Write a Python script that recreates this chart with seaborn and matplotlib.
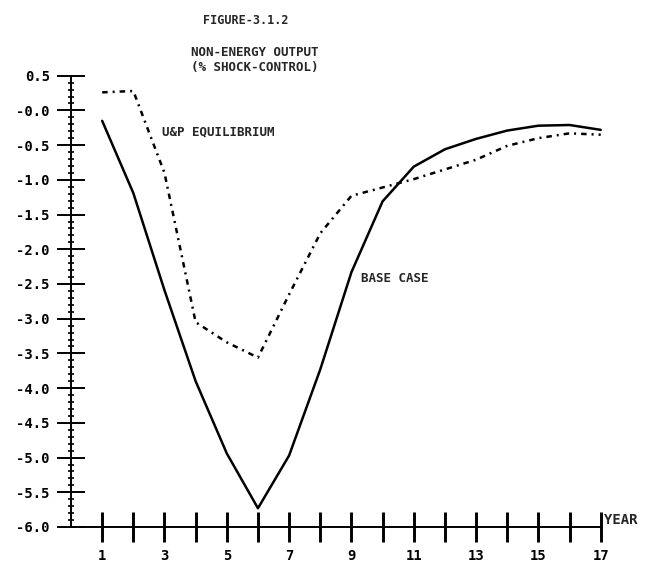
import numpy as np
import pandas as pd
import matplotlib
matplotlib.use("Agg")
import matplotlib.pyplot as plt
from matplotlib.ticker import MultipleLocator, FixedLocator, FixedFormatter
import seaborn as sns

# Years simulated after the shock
years = list(range(1, 18))

# Non-energy output, % deviation of shock run from control
base_case = [-0.15, -1.19, -2.59, -3.90, -4.94, -5.73, -4.97, -3.73, -2.33,
             -1.31, -0.81, -0.56, -0.41, -0.29, -0.22, -0.21, -0.28]
up_equilibrium = [0.26, 0.28, -0.90, -3.05, -3.34, -3.56, -2.65, -1.77, -1.23,
                  -1.11, -0.99, -0.85, -0.71, -0.51, -0.40, -0.33, -0.35]

y_ticks = [0.5, 0.0, -0.5, -1.0, -1.5, -2.0, -2.5, -3.0, -3.5, -4.0, -4.5,
           -5.0, -5.5, -6.0]
y_tick_labels = ["0.5", "-0.0", "-0.5", "-1.0", "-1.5", "-2.0", "-2.5", "-3.0",
                 "-3.5", "-4.0", "-4.5", "-5.0", "-5.5", "-6.0"]
x_tick_labels = [str(y) if y % 2 == 1 else "" for y in years]

df = pd.concat([
    pd.DataFrame({"year": years, "value": base_case, "run": "BASE CASE"}),
    pd.DataFrame({"year": years, "value": up_equilibrium, "run": "U&P EQUILIBRIUM"}),
])

sns.set_style("white")
plt.rcParams["font.family"] = ["DejaVu Sans Mono"]
plt.rcParams["font.weight"] = "bold"

W, H = 659, 572
fig = plt.figure(figsize=(W / 100, H / 100), dpi=100)
left, right, top, bottom = 71, 600.7, 75.7, 527
ax = fig.add_axes([left / W, 1 - bottom / H, (right - left) / W, (bottom - top) / H])

sns.lineplot(data=df, x="year", y="value", style="run", color="black",
             dashes={"BASE CASE": "", "U&P EQUILIBRIUM": (2.2, 2.0, 0.8, 2.0)},
             linewidth=1.8, legend=False, ax=ax)
for ln in ax.lines:
    ln.set_clip_on(False)

ax.set_xlim(0, 17)
ax.set_ylim(-6.0, 0.5)

for s in ("top", "right"):
    ax.spines[s].set_visible(False)
for s in ("left", "bottom"):
    ax.spines[s].set_color("black")
    ax.spines[s].set_linewidth(1.4)

ax.yaxis.set_major_locator(FixedLocator(y_ticks))
ax.yaxis.set_major_formatter(FixedFormatter(y_tick_labels))
ax.yaxis.set_minor_locator(MultipleLocator(0.1))
ax.xaxis.set_major_locator(FixedLocator(years))
ax.xaxis.set_major_formatter(FixedFormatter(x_tick_labels))

ax.tick_params(axis="y", which="major", direction="inout", length=19.5, width=1.4,
               pad=5.4, labelsize=10, left=True, colors="black")
ax.tick_params(axis="y", which="minor", direction="inout", length=5, width=1.2,
               left=True, colors="black")
ax.tick_params(axis="x", which="major", direction="inout", length=21.6, width=2.1,
               pad=5, labelsize=10, bottom=True, colors="black")
for lab in ax.get_xticklabels() + ax.get_yticklabels():
    lab.set_fontweight("bold")

ax.set_xlabel("")
ax.set_ylabel("")

ax.text(17.12, -6.0, "YEAR", ha="left", va="bottom", fontsize=10, fontweight="bold")
ax.text(2.92, -0.31, "U&P EQUILIBRIUM", ha="left", va="center", fontsize=9,
        fontweight="bold")
ax.text(9.3, -2.42, "BASE CASE", ha="left", va="center", fontsize=9,
        fontweight="bold")

fig.text(246 / W, 1 - 20 / H, "FIGURE-3.1.2", ha="center", va="center",
         fontsize=8.5, fontweight="bold")
fig.text(255 / W, 1 - 52 / H, "NON-ENERGY OUTPUT", ha="center", va="center",
         fontsize=9, fontweight="bold")
fig.text(255 / W, 1 - 68 / H, "(% SHOCK-CONTROL)", ha="center", va="center",
         fontsize=9, fontweight="bold")

fig.savefig("out.png", dpi=100, facecolor="white")
